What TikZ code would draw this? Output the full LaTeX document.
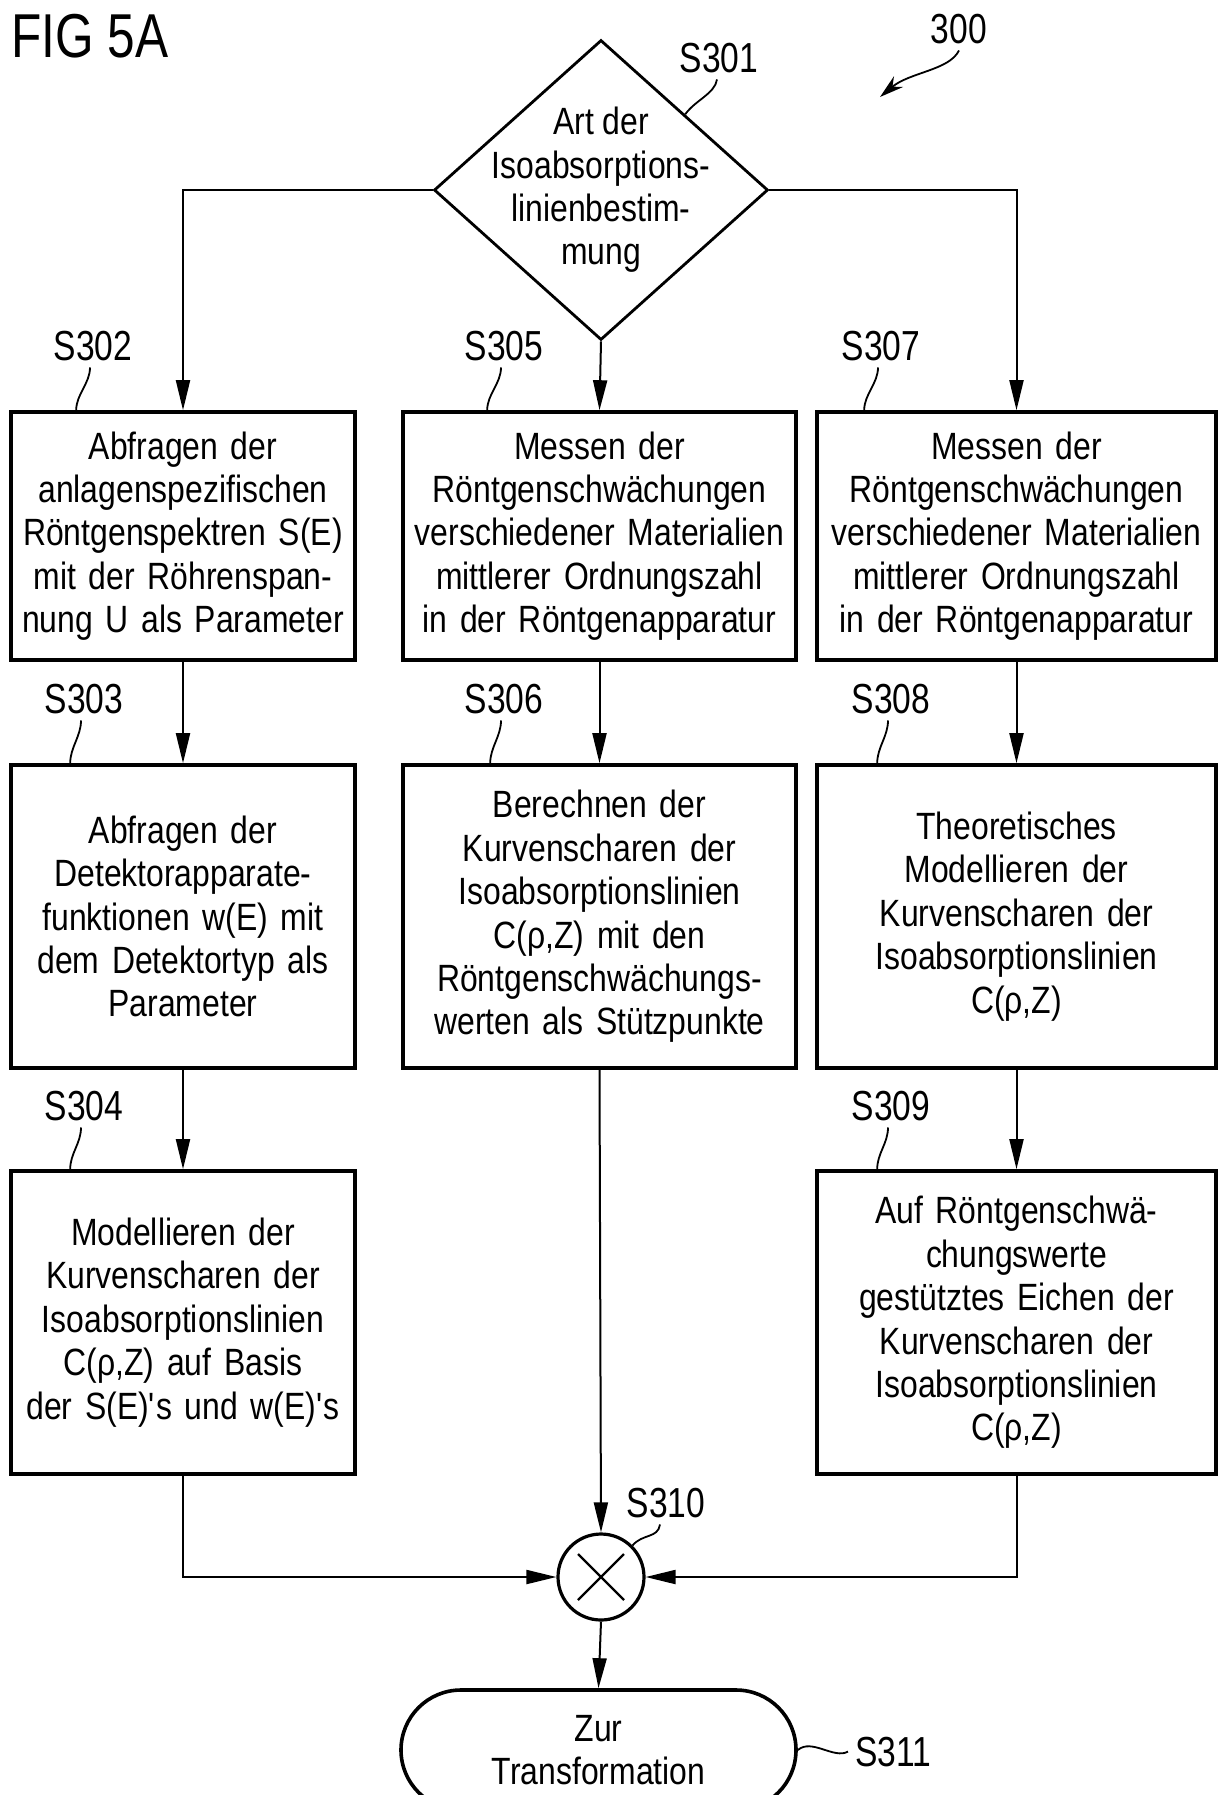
\documentclass[tikz,border=0pt]{standalone}
\usepackage{fontspec}
\setmainfont{Liberation Sans}[FakeStretch=0.84]
\newfontfamily\numfont{Liberation Sans}[FakeStretch=0.8]
\usetikzlibrary{shapes.geometric,arrows.meta}
\tikzstyle{stepbox}=[draw,line width=1.8pt,rectangle,align=center,inner xsep=3pt,inner ysep=0pt]
\tikzstyle{decision}=[draw,line width=1.4pt,diamond,minimum width=167pt,minimum height=150pt,inner sep=0pt]
\tikzstyle{junction}=[draw,line width=1.6pt,circle,minimum size=43pt,inner sep=0pt]
\tikzstyle{terminal}=[draw,line width=1.8pt,rectangle,rounded corners=30pt,minimum width=197.5pt,minimum height=60pt,align=center]
\tikzstyle{flow}=[line width=1pt,-{Triangle[length=15pt,width=7pt]}]
\tikzstyle{squig}=[line width=0.9pt]
\tikzstyle{steplabel}=[font=\fontsize{21}{24}\numfont,anchor=base]

\begin{document}
\begin{tikzpicture}[x=0.5pt,y=-0.5pt,font=\fontsize{19}{21.7}\selectfont]
  \useasboundingbox (0,0) rectangle (1218,1795);
  \node[font=\fontsize{31}{33}\numfont,anchor=base west,inner sep=0pt] (fig) at (11,57) {FIG 5A};

  \node[decision] (s301) at (601,190) {};
  \node[align=center] (s301txt) at (601,190) {Art der\\Isoabsorptions-\\linienbestim-\\mung};

  \node[stepbox,text width=166pt,minimum height=124pt] (s302) at (183,536)
    {Abfragen der\\anlagenspezifischen\\Röntgenspektren S(E)\\mit der Röhrenspan-\\nung U als Parameter};
  \node[stepbox,text width=190.5pt,minimum height=124pt] (s305) at (599.5,536)
    {Messen der\\Röntgenschwächungen\\verschiedener Materialien\\mittlerer Ordnungszahl\\in der Röntgenapparatur};
  \node[stepbox,text width=193.5pt,minimum height=124pt] (s307) at (1016.5,536)
    {Messen der\\Röntgenschwächungen\\verschiedener Materialien\\mittlerer Ordnungszahl\\in der Röntgenapparatur};

  \node[stepbox,text width=166pt,minimum height=151.5pt] (s303) at (183,916.5)
    {Abfragen der\\Detektorapparate-\\funktionen w(E) mit\\dem Detektortyp als\\Parameter};
  \node[stepbox,text width=190.5pt,minimum height=151.5pt] (s306) at (599.5,916.5)
    {Berechnen der\\Kurvenscharen der\\Isoabsorptionslinien\\C(ρ,Z) mit den\\Röntgenschwächungs-\\werten als Stützpunkte};
  \node[stepbox,text width=193.5pt,minimum height=151.5pt] (s308) at (1016.5,916.5)
    {Theoretisches\\Modellieren der\\Kurvenscharen der\\Isoabsorptionslinien\\C(ρ,Z)};

  \node[stepbox,text width=166pt,minimum height=151.5pt] (s304) at (183,1322.5)
    {Modellieren der\\Kurvenscharen der\\Isoabsorptionslinien\\C(ρ,Z) auf Basis\\der S(E)\textquotesingle s und w(E)\textquotesingle s};
  \node[stepbox,text width=193.5pt,minimum height=151.5pt] (s309) at (1016.5,1322.5)
    {Auf Röntgenschwä-\\chungswerte\\gestütztes Eichen der\\Kurvenscharen der\\Isoabsorptionslinien\\C(ρ,Z)};

  \node[junction] (s310) at (601,1577) {};
  \draw[line width=1.2pt] ([shift={(-23,-23)}]s310.center) -- ([shift={(23,23)}]s310.center);
  \draw[line width=1.2pt] ([shift={(-23,23)}]s310.center) -- ([shift={(23,-23)}]s310.center);

  \node[terminal] (s311) at (598.5,1750) {Zur\\Transformation};

  \node[steplabel] (l300) at (959,43) {300};
  \node[steplabel] (l301) at (719,72) {S301};
  \node[steplabel] (l302) at (93,360) {S302};
  \node[steplabel] (l305) at (504,360) {S305};
  \node[steplabel] (l307) at (881,360) {S307};
  \node[steplabel] (l303) at (84,713) {S303};
  \node[steplabel] (l306) at (504,713) {S306};
  \node[steplabel] (l308) at (891,713) {S308};
  \node[steplabel] (l304) at (84,1120) {S304};
  \node[steplabel] (l309) at (891,1120) {S309};
  \node[steplabel] (l310) at (666,1517) {S310};
  \node[steplabel,anchor=base west] (l311) at (848,1766) {S311};
  \coordinate (c300) at (880,97);

  \draw[flow] (s301.west) -| (s302.north);
  \draw[flow] (s301.south) -- (s305.north);
  \draw[flow] (s301.east) -| (s307.north);
  \draw[flow] (s302.south) -- (s303.north);
  \draw[flow] (s303.south) -- (s304.north);
  \draw[flow] (s305.south) -- (s306.north);
  \draw[flow] (s307.south) -- (s308.north);
  \draw[flow] (s308.south) -- (s309.north);
  \draw[flow] (s306.south) -- (s310.north);
  \draw[flow] (s304.south) |- (s310.west);
  \draw[flow] (s309.south) |- (s310.east);
  \draw[flow] (s310.south) -- (s311.north);

  \draw[squig,-{Stealth[length=12pt,width=7pt]}] (l300.south) .. controls +(-10,20) and +(30,-25) .. (c300);
  \draw[squig] ([xshift=-1pt]l301.south) .. controls +(-2,14) and +(10,-14) .. (s301.north east);
  \draw[squig] ([xshift=-1.5pt]l302.south) .. controls +(0,16) and +(0,-16) .. ([xshift=33.5pt]s302.north west);
  \draw[squig] ([xshift=-1.5pt]l305.south) .. controls +(0,16) and +(0,-16) .. ([xshift=43pt]s305.north west);
  \draw[squig] ([xshift=-1.5pt]l307.south) .. controls +(0,16) and +(0,-16) .. ([xshift=24.5pt]s307.north west);
  \draw[squig] ([xshift=-1.5pt]l303.south) .. controls +(0,16) and +(0,-16) .. ([xshift=30.5pt]s303.north west);
  \draw[squig] ([xshift=-1.5pt]l306.south) .. controls +(0,16) and +(0,-16) .. ([xshift=44.5pt]s306.north west);
  \draw[squig] ([xshift=-1.5pt]l308.south) .. controls +(0,16) and +(0,-16) .. ([xshift=31pt]s308.north west);
  \draw[squig] ([xshift=-1.5pt]l304.south) .. controls +(0,16) and +(0,-16) .. ([xshift=30.5pt]s304.north west);
  \draw[squig] ([xshift=-1.5pt]l309.south) .. controls +(0,16) and +(0,-16) .. ([xshift=31pt]s309.north west);
  \draw[squig] ([xshift=-3pt]l310.south) .. controls +(-2,14) and +(10,-12) .. (s310.north east);
  \draw[squig] (s311.east) .. controls +(14,-12) and +(-14,8) .. (l311.west);
\end{tikzpicture}
\end{document}
